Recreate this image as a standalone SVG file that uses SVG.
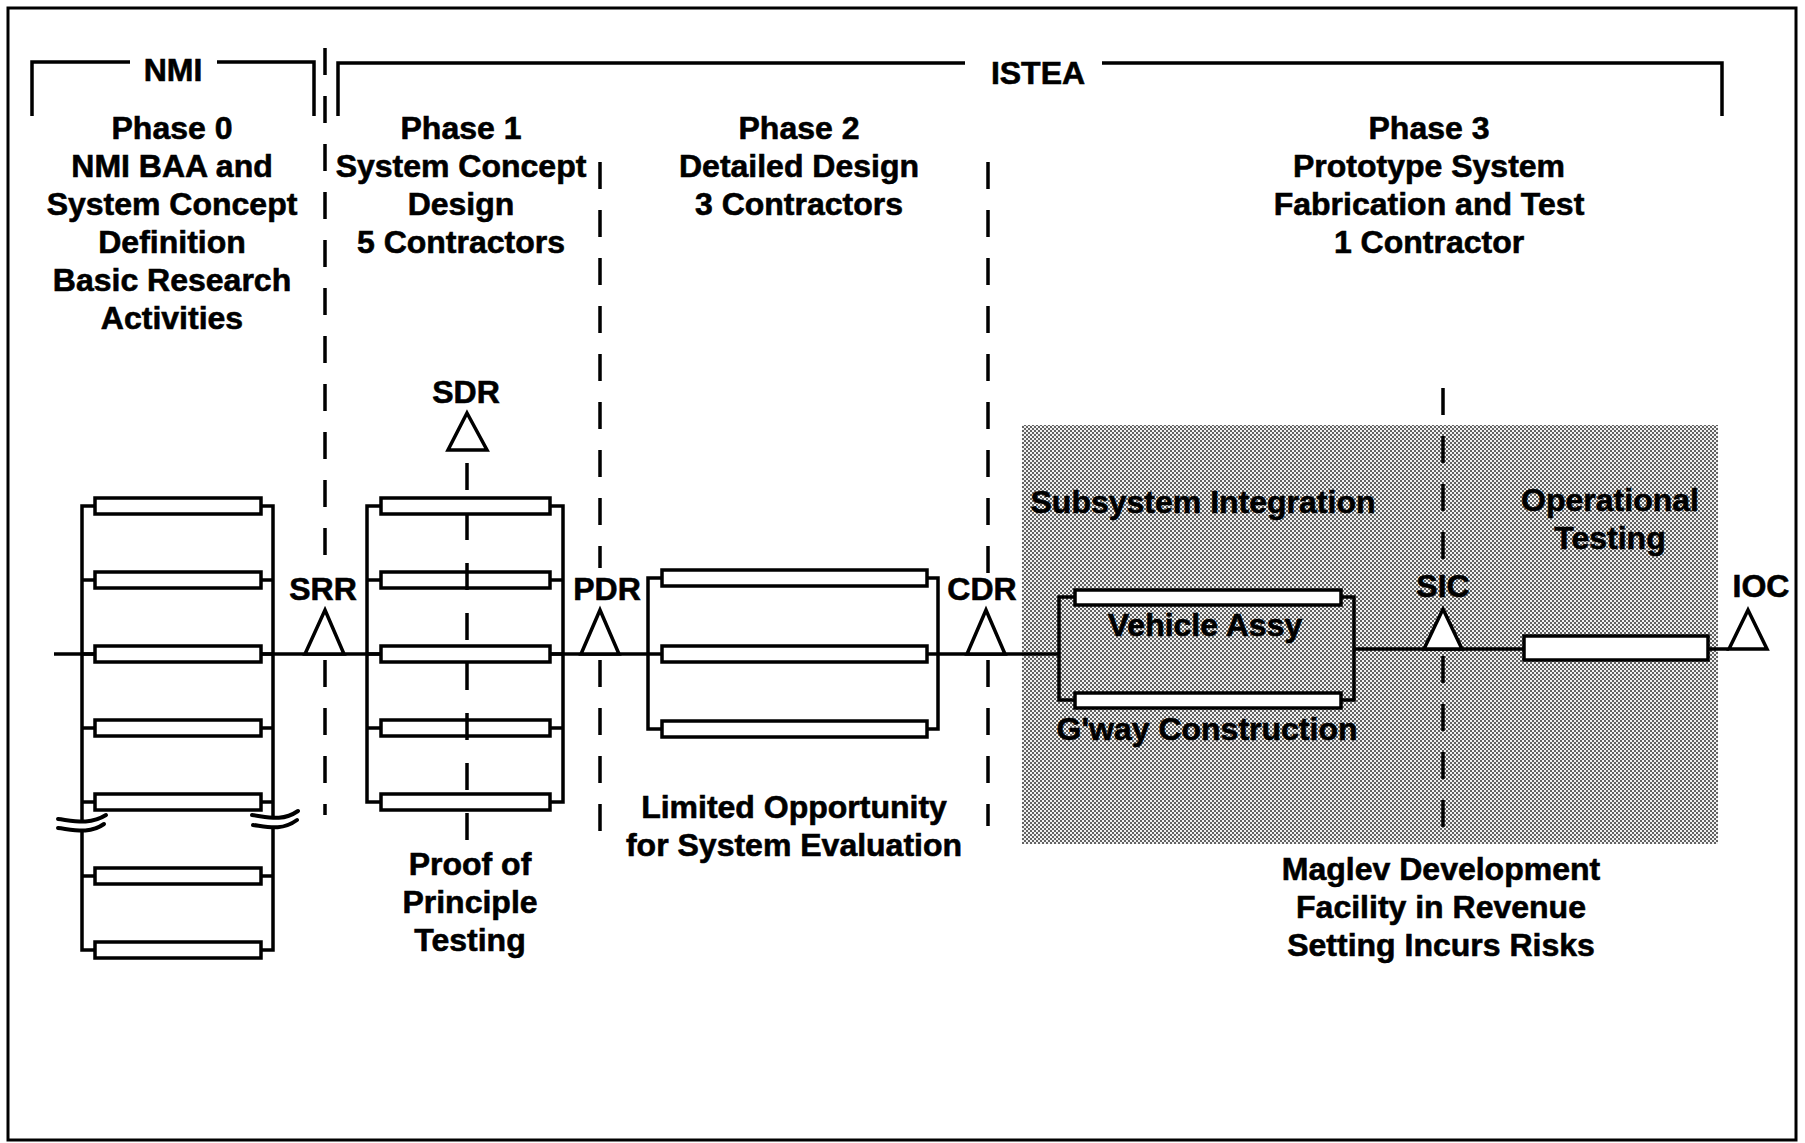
<svg xmlns="http://www.w3.org/2000/svg" width="1805" height="1143" viewBox="0 0 1805 1143">
<style>
  .t { font-family: "Liberation Sans", Arial, Helvetica, sans-serif; font-weight: bold; font-size: 32px; fill: #000; stroke: #000; stroke-width: 0.6; text-anchor: middle; }
  .ln { fill: none; stroke: #000; stroke-width: 3.5; stroke-linecap: butt; stroke-linejoin: miter; }
  .dash { fill: none; stroke: #000; stroke-width: 3.5; stroke-dasharray: 27 21; }
  .bar { fill: #fff; stroke: #000; stroke-width: 3.5; }
  .tri { fill: #fff; stroke: #000; stroke-width: 3.5; stroke-linejoin: miter; }
  .brk { fill: none; stroke: #000; stroke-width: 4; stroke-linecap: round; }
</style>
<defs>
  <pattern id="dots" width="4" height="4" patternUnits="userSpaceOnUse">
    <rect width="4" height="4" fill="#f2f2f2"/>
    <rect width="2" height="2" fill="#636363"/>
    <rect x="2" y="2" width="2" height="2" fill="#636363"/>
  </pattern>
</defs>
<rect x="0" y="0" width="1805" height="1143" fill="#fff"/>
<rect x="8" y="8" width="1788" height="1132" fill="none" stroke="#000" stroke-width="3"/>

<!-- Shaded prototype region -->
<rect id="shade" x="1022" y="425" width="696" height="419" fill="url(#dots)"/>

<!-- Top brackets -->
<g id="nmi-bracket">
  <path class="ln" d="M32,116 V62 H130 M217,62 H314 V116"/>
  <text class="t" x="173" y="81">NMI</text>
</g>
<g id="istea-bracket">
  <path class="ln" d="M338,116 V63 H965 M1102,63 H1722 V116"/>
  <text class="t" x="1038" y="84">ISTEA</text>
</g>

<!-- Phase headings -->
<g id="phase0-head">
  <text class="t" x="172" y="139">Phase 0</text>
  <text class="t" x="172" y="177">NMI BAA and</text>
  <text class="t" x="172" y="215">System Concept</text>
  <text class="t" x="172" y="253">Definition</text>
  <text class="t" x="172" y="291">Basic Research</text>
  <text class="t" x="172" y="329">Activities</text>
</g>
<g id="phase1-head">
  <text class="t" x="461" y="139">Phase 1</text>
  <text class="t" x="461" y="177">System Concept</text>
  <text class="t" x="461" y="215">Design</text>
  <text class="t" x="461" y="253">5 Contractors</text>
</g>
<g id="phase2-head">
  <text class="t" x="799" y="139">Phase 2</text>
  <text class="t" x="799" y="177">Detailed Design</text>
  <text class="t" x="799" y="215">3 Contractors</text>
</g>
<g id="phase3-head">
  <text class="t" x="1429" y="139">Phase 3</text>
  <text class="t" x="1429" y="177">Prototype System</text>
  <text class="t" x="1429" y="215">Fabrication and Test</text>
  <text class="t" x="1429" y="253">1 Contractor</text>
</g>

<!-- Connectors: phase boundaries and main timeline -->
<g id="connectors">
  <line class="dash" x1="325" y1="48" x2="325" y2="567"/>
  <line class="dash" x1="325" y1="660" x2="325" y2="815"/>
  <line class="dash" x1="600" y1="162" x2="600" y2="568"/>
  <line class="dash" x1="600" y1="660" x2="600" y2="832"/>
  <line class="dash" x1="988" y1="162" x2="988" y2="578"/>
  <line class="dash" x1="988" y1="660" x2="988" y2="826"/>
  <line class="dash" x1="1443" y1="388" x2="1443" y2="574"/>
  <line class="dash" x1="1443" y1="656" x2="1443" y2="842"/>
  <line class="ln" x1="54" y1="654" x2="1059" y2="654"/>
  <line class="ln" x1="1354" y1="649" x2="1729" y2="649"/>
</g>

<!-- Phase 0 activities ladder -->
<g id="phase0-ladder">
  <path class="ln" d="M95,506 H82 V950 H95 M82,580 H95 M82,654 H95 M82,728 H95 M82,802 H95 M82,876 H95"/>
  <path class="ln" d="M261,506 H273 V950 H261 M261,580 H273 M261,654 H273 M261,728 H273 M261,802 H273 M261,876 H273"/>
  <rect class="bar" x="95" y="498" width="166" height="16"/>
  <rect class="bar" x="95" y="572" width="166" height="16"/>
  <rect class="bar" x="95" y="646" width="166" height="16"/>
  <rect class="bar" x="95" y="720" width="166" height="16"/>
  <rect class="bar" x="95" y="794" width="166" height="16"/>
  <rect class="bar" x="95" y="868" width="166" height="16"/>
  <rect class="bar" x="95" y="942" width="166" height="16"/>
  <path d="M58,819 C75,821 90,825 106,815 L104,824 C90,834 75,830 58,828 Z" fill="#fff"/>
  <path class="brk" d="M58,819 C75,821 90,825 106,815"/>
  <path class="brk" d="M58,828 C75,830 90,834 104,824"/>
  <path d="M252,815 C268,817 282,822 298,811 L297,820 C282,831 268,827 253,825 Z" fill="#fff"/>
  <path class="brk" d="M252,815 C268,817 282,822 298,811"/>
  <path class="brk" d="M253,825 C268,827 282,831 297,820"/>
</g>

<!-- Phase 1 ladder -->
<g id="phase1-ladder">
  <path class="ln" d="M381,506 H367 V802 H381 M367,580 H381 M367,654 H381 M367,728 H381"/>
  <path class="ln" d="M550,506 H563 V802 H550 M550,580 H563 M550,654 H563 M550,728 H563"/>
  <rect class="bar" x="381" y="498" width="169" height="16"/>
  <rect class="bar" x="381" y="572" width="169" height="16"/>
  <rect class="bar" x="381" y="646" width="169" height="16"/>
  <rect class="bar" x="381" y="720" width="169" height="16"/>
  <rect class="bar" x="381" y="794" width="169" height="16"/>
  <line class="dash" x1="467" y1="463" x2="467" y2="840" style="stroke-dasharray:27 23"/>
</g>

<!-- Phase 2 ladder -->
<g id="phase2-ladder">
  <path class="ln" d="M662,578 H648 V729 H662"/>
  <path class="ln" d="M927,578 H938 V729 H927"/>
  <rect class="bar" x="662" y="570" width="265" height="16"/>
  <rect class="bar" x="662" y="646" width="265" height="16"/>
  <rect class="bar" x="662" y="721" width="265" height="16"/>
</g>

<!-- Phase 3 subsystem box -->
<g id="phase3-box">
  <path class="ln" d="M1075,597 H1059 V700 H1075"/>
  <path class="ln" d="M1341,597 H1354 V700 H1341"/>
  <rect class="bar" x="1075" y="590" width="266" height="15"/>
  <rect class="bar" x="1075" y="693" width="266" height="15"/>
  <text class="t" x="1203" y="513">Subsystem Integration</text>
  <text class="t" x="1205" y="636">Vehicle Assy</text>
  <text class="t" x="1207" y="740">G'way Construction</text>
</g>

<g id="op-testing">
  <rect class="bar" x="1524" y="636" width="184" height="24"/>
  <text class="t" x="1610" y="511">Operational</text>
  <text class="t" x="1610" y="549">Testing</text>
</g>

<!-- Milestones -->
<g id="srr">
  <polygon class="tri" points="325,610 344,654 305,654"/>
  <text class="t" x="323" y="600">SRR</text>
</g>
<g id="sdr">
  <polygon class="tri" points="467,413 487,450 448,450"/>
  <text class="t" x="466" y="403">SDR</text>
</g>
<g id="pdr">
  <polygon class="tri" points="600,610 619,654 581,654"/>
  <text class="t" x="607" y="600">PDR</text>
</g>
<g id="cdr">
  <polygon class="tri" points="986,610 1005,654 967,654"/>
  <text class="t" x="982" y="600">CDR</text>
</g>
<g id="sic">
  <polygon class="tri" points="1443,609 1462,649 1424,649"/>
  <text class="t" x="1443" y="597">SIC</text>
</g>
<g id="ioc">
  <polygon class="tri" points="1748,610 1767,649 1729,649"/>
  <text class="t" x="1761" y="597">IOC</text>
</g>

<!-- Bottom notes -->
<g id="note-proof">
  <text class="t" x="470" y="875">Proof of</text>
  <text class="t" x="470" y="913">Principle</text>
  <text class="t" x="470" y="951">Testing</text>
</g>
<g id="note-limited">
  <text class="t" x="794" y="818">Limited Opportunity</text>
  <text class="t" x="794" y="856">for System Evaluation</text>
</g>
<g id="note-maglev">
  <text class="t" x="1441" y="880">Maglev Development</text>
  <text class="t" x="1441" y="918">Facility in Revenue</text>
  <text class="t" x="1441" y="956">Setting Incurs Risks</text>
</g>
</svg>
